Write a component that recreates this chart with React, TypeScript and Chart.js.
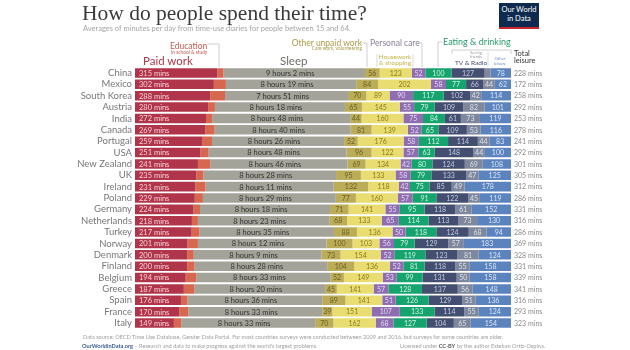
import React, { useEffect, useRef } from "react";
import { Chart, registerables } from "chart.js";
Chart.register(...registerables);

const countries = ["China","Mexico","South Korea","Austria","India","Canada","Portugal","USA","New Zealand","UK","Ireland","Poland","Germany","Netherlands","Turkey","Norway","Denmark","Finland","Belgium","Greece","Spain","France","Italy"];
const paidWork = [315,302,288,280,272,269,259,251,241,235,231,229,224,218,217,201,200,200,194,187,176,170,149];
const education = [24,46,57,26,24,36,36,31,47,27,39,31,25,23,30,40,25,28,41,41,25,34,28];
const sleep = [542,499,471,498,528,520,506,528,526,508,491,509,498,503,515,492,489,508,513,500,516,513,513];
const otherUnpaid = [56,84,70,65,44,81,52,96,69,95,132,77,71,68,88,100,73,104,52,45,89,39,70];
const housework = [123,202,89,145,160,139,176,122,134,133,118,160,141,133,136,103,154,136,149,141,141,151,162];
const personalCare = [52,58,90,55,75,52,58,57,42,58,42,57,55,65,50,56,52,52,53,57,51,107,68];
const eating = [100,77,117,79,84,65,112,63,80,79,75,91,95,114,118,79,119,81,99,128,126,133,127];
const tvRadio = [127,66,102,109,61,109,114,148,124,133,85,122,118,113,124,129,123,118,131,137,129,114,104];
const seeingFriends = [23,44,42,82,73,53,44,44,69,47,49,45,61,73,68,57,81,55,50,56,51,55,65];
const otherLeisure = [78,62,114,101,119,116,83,100,108,125,178,119,152,130,94,183,124,158,158,148,136,124,154];
const totalLeisure = [228,172,258,292,253,278,241,292,301,305,312,286,331,316,286,369,328,331,339,341,316,293,323];

const seriesNames = ["Paid work","Education","Sleep","Other unpaid work","Housework & shopping","Personal care","Eating & drinking","TV & Radio","Seeing friends","Other leisure"];
const seriesColors = ["#b0354b","#d8674f","#a3a39a","#bbac58","#e9dd72","#8e6db0","#16a46e","#434e70","#7f879c","#5b83bd"];
const labelColors = ["#f6d0d6","","#333333","#6a5f25","#8a7b1e","#e4d8f2","#cdf1df","#c3cae0","#dde0ea","#dbe5f4"];

const FONT = "Lato, 'Noto Sans', sans-serif";

function T(props: any) {
  const { x, y, size, color, children, weight, align, width } = props;
  const style: any = {
    position: "absolute",
    top: y - size * 0.6,
    fontSize: size,
    lineHeight: `${size * 1.2}px`,
    color,
    fontFamily: props.family || FONT,
    fontWeight: weight || 400,
    whiteSpace: "nowrap",
  };
  if (align === "right") { style.right = 630 - x; style.textAlign = "right"; }
  else if (align === "center") { style.left = x - (width || 60) / 2; style.width = width || 60; style.textAlign = "center"; }
  else style.left = x;
  return <div style={style}>{children}</div>;
}

export default function App() {
  const ref = useRef<HTMLCanvasElement>(null);
  useEffect(() => {
    const values = [paidWork, education, sleep, otherUnpaid, housework, personalCare, eating, tvRadio, seeingFriends, otherLeisure];
    const labelPlugin = {
      id: "segLabels",
      afterDatasetsDraw(chart: any) {
        const ctx = chart.ctx;
        ctx.save();
        ctx.textBaseline = "middle";
        chart.data.datasets.forEach((ds: any, di: number) => {
          const meta = chart.getDatasetMeta(di);
          meta.data.forEach((el: any, i: number) => {
            const v = ds.data[i];
            const left = Math.min(el.x, el.base);
            const right = Math.max(el.x, el.base);
            const cy = el.y + 0.5;
            ctx.fillStyle = labelColors[di];
            if (di === 0) {
              ctx.font = `7.5px ${FONT}`;
              ctx.textAlign = "left";
              ctx.fillText(`${v} mins`, left + 4, cy);
            } else if (di === 1) {
              return;
            } else if (di === 2) {
              ctx.font = `7.5px ${FONT}`;
              ctx.textAlign = "center";
              ctx.fillText(`${Math.floor(v / 60)} hours ${v % 60} mins`, (left + right) / 2 - 4, cy);
            } else {
              if (di === 8 && v < 40) return;
              ctx.font = `7px ${FONT}`;
              ctx.textAlign = "center";
              ctx.fillText(`${v}`, (left + right) / 2, cy);
            }
          });
        });
        const area = chart.chartArea;
        const meta0 = chart.getDatasetMeta(0);
        ctx.fillStyle = "#8a8a8a";
        ctx.font = `7px ${FONT}`;
        ctx.textAlign = "left";
        meta0.data.forEach((el: any, i: number) => {
          ctx.fillText(`${totalLeisure[i]} mins`, area.right + 3, el.y + 0.5);
        });
        ctx.restore();
      },
    };
    const chart = new Chart(ref.current as HTMLCanvasElement, {
      type: "bar",
      data: {
        labels: countries,
        datasets: values.map((d, i) => ({
          label: seriesNames[i],
          data: d,
          backgroundColor: seriesColors[i],
          borderWidth: 0,
          barPercentage: 0.84,
          categoryPercentage: 1,
        })),
      },
      options: {
        indexAxis: "y",
        animation: false,
        responsive: false,
        layout: { padding: { left: 0, top: 67.3, right: 119, bottom: 21.3 } },
        plugins: { legend: { display: false }, tooltip: { enabled: false }, title: { display: false } },
        scales: {
          x: { stacked: true, display: false, min: 0, max: 1440 },
          y: {
            stacked: true,
            grid: { display: false, drawTicks: false },
            border: { display: false },
            ticks: { color: "#777", font: { family: FONT, size: 9.5 }, padding: 3, autoSkip: false },
            afterFit(scale: any) { scale.width = 135; },
          },
        },
      } as any,
      plugins: [labelPlugin],
    });
    return () => chart.destroy();
  }, []);

  const line = "#c4c4c4";
  return (
    <div style={{ position: "fixed", left: 0, top: 0, width: 630, height: 350, background: "#fff", overflow: "hidden" }}>
      <canvas ref={ref} width={630} height={350} style={{ position: "absolute", left: 0, top: 0, width: 630, height: 350 }} />
      <svg width={630} height={350} style={{ position: "absolute", left: 0, top: 0, pointerEvents: "none" }}>
        <polyline points="207,44 219,44 219,67" fill="none" stroke={line} strokeWidth={0.8} />
        <polyline points="363,43 367,43 367,67" fill="none" stroke={line} strokeWidth={0.8} />
        <polyline points="418,43 422,43 422,67" fill="none" stroke={line} strokeWidth={0.8} />
        <polyline points="442,42 438,42 438,67" fill="none" stroke={line} strokeWidth={0.8} />
        <polyline points="377,54 377,67" fill="none" stroke={line} strokeWidth={0.6} />
        <polyline points="413,54 413,67" fill="none" stroke={line} strokeWidth={0.6} />
        <polyline points="452,54 452,50 511,50 511,54" fill="none" stroke={line} strokeWidth={0.8} />
        <polyline points="488,52 488,66" fill="none" stroke={line} strokeWidth={0.6} />
      </svg>
      <T x={82} y={14} size={21.5} color="#3a3a3a" family="'Liberation Serif', 'DejaVu Serif', serif">How do people spend their time?</T>
      <T x={83} y={28.5} size={7.5} color="#a5a5a5">Averages of minutes per day from time-use diaries for people between 15 and 64.</T>
      <div style={{ position: "absolute", left: 499, top: 3, width: 40, height: 22, background: "#0e2a4f", borderBottom: "2px solid #c8262d", color: "#fff", fontFamily: FONT, fontSize: 7.5, lineHeight: "9px", textAlign: "center", paddingTop: 2, boxSizing: "content-box" }}>
        Our World<br />in Data
      </div>
      <T x={170} y={46.5} size={8.5} color="#c45b50">Education</T>
      <T x={171} y={53} size={4.8} color="#c45b50">In school &amp; study</T>
      <T x={143} y={61} size={11.5} color="#a83a4c">Paid work</T>
      <T x={280} y={61} size={11.5} color="#6f6f68">Sleep</T>
      <T x={362} y={43} size={8.5} color="#aa9c48" align="right">Other unpaid work</T>
      <T x={362} y={49} size={4.8} color="#aa9c48" align="right">Care work, volunteering</T>
      <T x={370} y={43} size={8.5} color="#8a8098">Personal care</T>
      <T x={395} y={57} size={6.5} color="#c4b54a" align="center" width={40}>Housework</T>
      <T x={395} y={62.5} size={6.5} color="#c4b54a" align="center" width={40}>&amp; shopping</T>
      <T x={443} y={42} size={9} color="#2b9a70">Eating &amp; drinking</T>
      <T x={476} y={53} size={4} color="#999" align="center" width={24}>Seeing</T>
      <T x={476} y={57} size={4} color="#999" align="center" width={24}>friends</T>
      <T x={455} y={63} size={6.5} color="#434e70">TV &amp; Radio</T>
      <T x={500} y={59} size={4.3} color="#6f8fc0" align="center" width={24}>Other</T>
      <T x={500} y={64} size={4.3} color="#6f8fc0" align="center" width={24}>leisure</T>
      <T x={514} y={53} size={7.5} color="#333">Total</T>
      <T x={514} y={60.5} size={7.5} color="#333">leisure</T>
      <T x={83} y={337} size={5.6} color="#a0a0a0">Data source: OECD Time Use Database, Gender Data Portal. For most countries surveys were conducted between 2009 and 2016, but surveys for some countries are older.</T>
      <div style={{ position: "absolute", left: 82, top: 342, fontFamily: FONT, fontSize: 5.6, lineHeight: "7px", color: "#a0a0a0", whiteSpace: "nowrap" }}>
        <span style={{ color: "#3c5a99", fontWeight: 700 }}>OurWorldinData.org</span> – Research and data to make progress against the world's largest problems.
      </div>
      <div style={{ position: "absolute", right: 630 - 545, top: 342, fontFamily: FONT, fontSize: 5.6, lineHeight: "7px", color: "#a0a0a0", whiteSpace: "nowrap" }}>
        Licensed under <span style={{ color: "#555", fontWeight: 700 }}>CC-BY</span> by the author Esteban Ortiz-Ospina.
      </div>
    </div>
  );
}
